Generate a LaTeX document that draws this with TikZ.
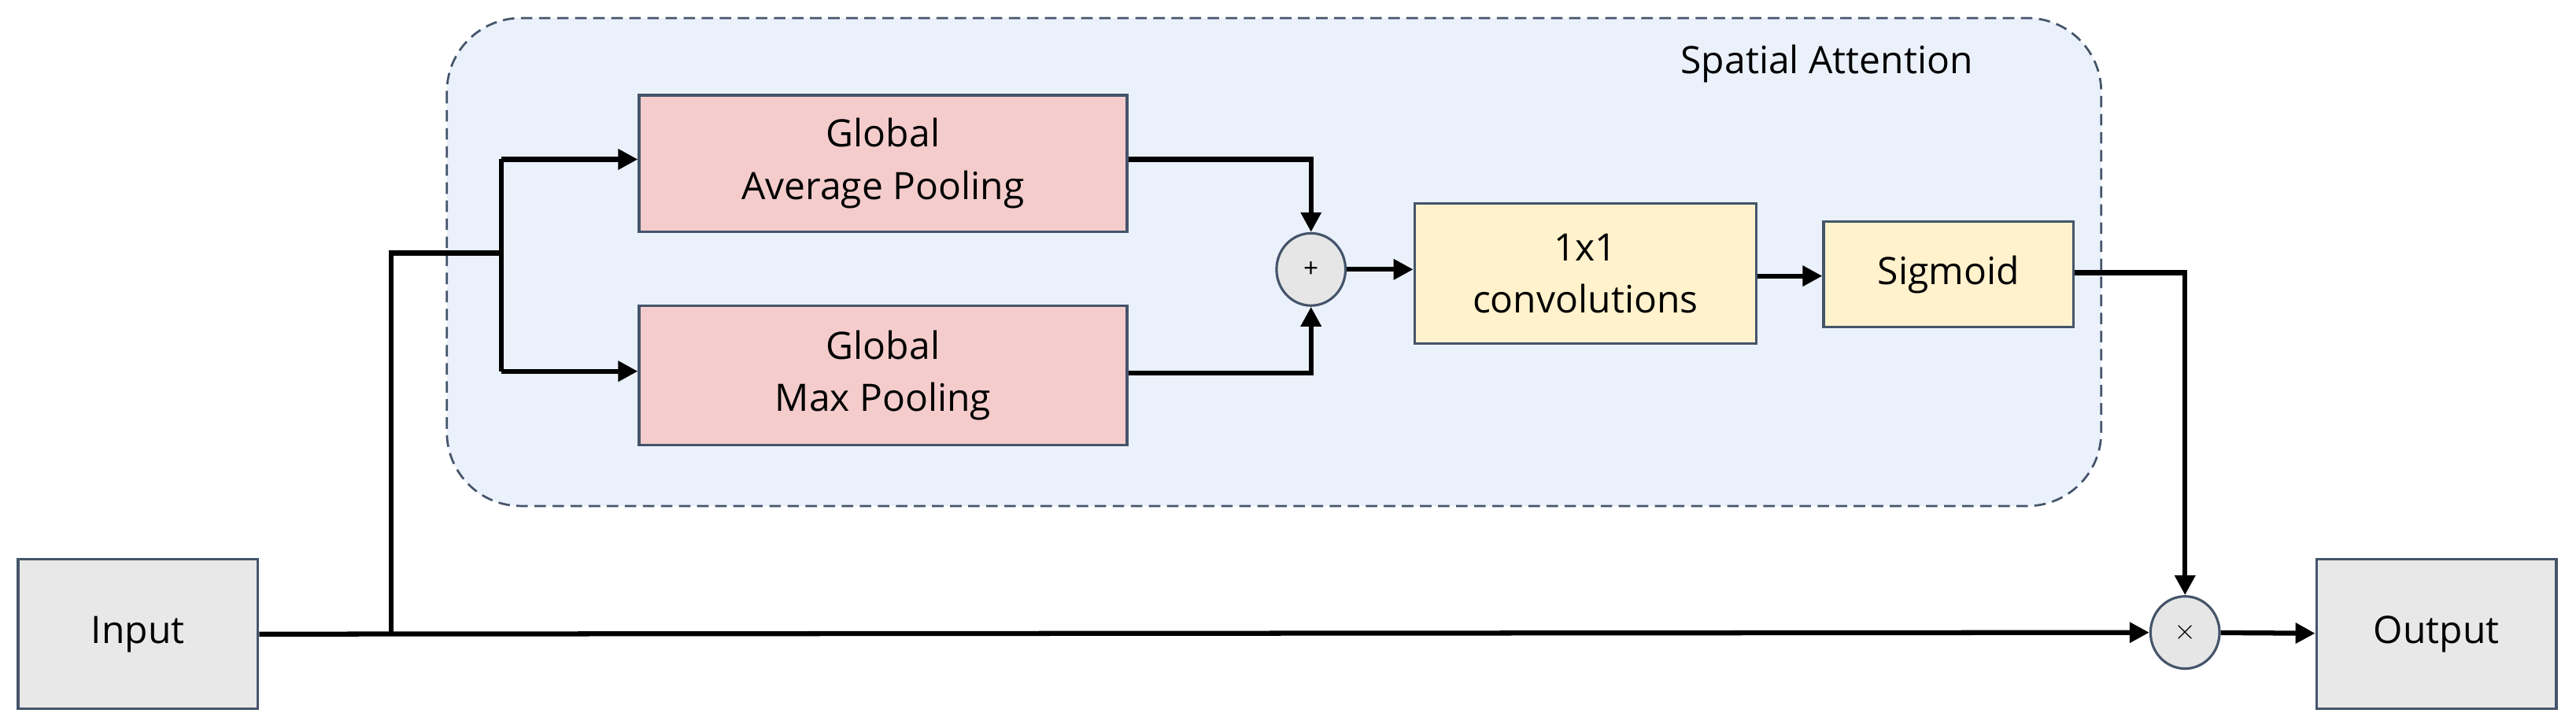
\documentclass[tikz,border=0pt]{standalone}
\usepackage{fontspec}
\setmainfont{Open Sans}
\usetikzlibrary{arrows.meta,shapes.geometric}
\definecolor{bd}{HTML}{44546A}
\begin{document}
\begin{tikzpicture}[x=1pt,y=-1pt,
  box/.style={draw=bd,line width=1.5pt,minimum width=#1,inner sep=0pt,align=center,font=\fontsize{23}{32}\selectfont},
  gray/.style={fill={rgb,255:red,232;green,232;blue,232}},
  pink/.style={fill={rgb,255:red,244;green,204;blue,204}},
  yel/.style={fill={rgb,255:red,255;green,242;blue,204}},
  op/.style={ellipse,draw=bd,line width=1.5pt,fill={rgb,255:red,230;green,230;blue,230},minimum width=42pt,minimum height=44pt,inner sep=0pt,font=\fontsize{16}{16}\selectfont},
  ar/.style={line width=3pt,-{Triangle[length=12pt,width=12pt]}},
  ln/.style={line width=3pt}]
\useasboundingbox (0,0) rectangle (1568,443);
\draw[bd,dashed,line width=1.3pt,fill={rgb,255:red,234;green,241;blue,251},rounded corners=45pt,dash pattern=on 7pt off 4pt] (272,11) rectangle (1279,308);
\node[font=\fontsize{23}{28}\selectfont] (t) at (1112,39) {Spatial Attention};
\node[box=146pt,gray,minimum height=91pt] (in) at (84,386) {Input};
\node[box=146pt,gray,minimum height=91pt] (out) at (1483,386) {Output};
\node[box=297pt,pink,minimum height=83pt] (gap) at (537.5,99.5) {Global\\Average Pooling};
\node[box=297pt,pink,minimum height=85pt] (gmp) at (537.5,228.5) {Global\\Max Pooling};
\node[op] (plus) at (798,164) {+};
\node[box=208pt,yel,minimum height=85pt] (conv) at (965,166.5) {1x1\\convolutions};
\node[box=152pt,yel,minimum height=64pt] (sig) at (1186,167) {Sigmoid};
\node[op] (times) at (1330,385) {$\times$};
\coordinate (j) at (238,386);
\coordinate (s) at (305,154);
\draw[ar] (in.east|-j) -- (times);
\draw[ln] (j) |- (s);
\draw[ln] (305,97) -- (305,226);
\draw[ar] (305,97) -- (gap.west|-0,97);
\draw[ar] (305,226) -- (gmp.west|-0,226);
\draw[ar] (gap.east|-0,97) -| (plus.north);
\draw[ar] (gmp.east|-0,227) -| (plus.south);
\draw[ar] (plus.east) -- (conv.west|-plus.east);
\draw[ar] (conv.east|-0,168) -- (sig.west|-0,168);
\draw[ar] (sig.east|-0,166) -| (times.north);
\draw[ar] (times) -- (out);
\end{tikzpicture}
\end{document}
